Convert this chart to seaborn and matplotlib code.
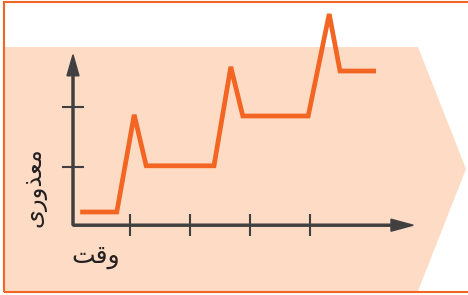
import numpy as np
import seaborn as sns
import matplotlib.pyplot as plt
from matplotlib.patches import Polygon, Rectangle

# data (units: one tick step)
x_vals = [0.17, 0.78, 1.07, 1.27, 2.40, 2.68, 2.88, 3.97, 4.32, 4.50, 5.10]
y_vals = [0.25, 0.25, 1.87, 1.02, 1.02, 2.67, 1.85, 1.85, 3.55, 2.60, 2.60]
x_ticks = [1, 2, 3, 4]
y_ticks = [1, 2]
x_label = "\uFE96\uFED7\uFEED"                       # وقت
y_label = "\uFBFC\uFEAD\uFEED\uFEAC\uFECC\uFEE3"     # معذوری

orange = "#F26522"
peach = "#FDDBC4"
grey = "#404040"

sns.set_style("white")
plt.rcParams['font.family'] = ['DejaVu Sans']

W, H = 468, 295
fig = plt.figure(figsize=(W / 100, H / 100), dpi=100)
ax = fig.add_axes([0, 0, 1, 1])
ax.set_facecolor("none")
ax.set_zorder(5)

# background arrow shape and frame
def fp(px, py):
    return (px / W, 1 - py / H)

shape = [fp(5, 47), fp(418, 47), fp(466, 169), fp(418, 291), fp(5, 291)]
fig.patches.append(Polygon(shape, closed=True, facecolor=peach, edgecolor="none",
                           transform=fig.transFigure, zorder=0))
fig.patches.append(Rectangle(fp(4, 292), 470 / W, 290 / H, fill=False,
                             edgecolor=orange, lw=1.5, transform=fig.transFigure, zorder=1))

x0, y0 = 0.05, 0.03
ax.set_xlim(-70 / 60, (W - 70) / 60)
ax.set_ylim((227 - H) / 60, 227 / 60)

# axes arrows
ax.arrow(x0, y0, 5.72 - x0, 0, width=0.034, head_width=0.2, head_length=0.37,
         length_includes_head=True, color=grey, zorder=2)
ax.arrow(x0, y0, 0, 2.87 - y0, width=0.034, head_width=0.2, head_length=0.35,
         length_includes_head=True, color=grey, zorder=2)

for s in ax.spines.values():
    s.set_visible(False)
ax.spines['left'].set_position(('data', x0))
ax.spines['bottom'].set_position(('data', y0))
ax.set_xticks(x_ticks)
ax.set_yticks(y_ticks)
ax.tick_params(axis='both', direction='inout', length=15.5, width=1.5, color=grey,
               labelbottom=False, labelleft=False, left=True, bottom=True)

sns.lineplot(x=x_vals, y=y_vals, sort=False, estimator=None, color=orange,
             lw=3.4, ax=ax, zorder=3)
ax.lines[-1].set_solid_joinstyle('miter')
ax.lines[-1].set_solid_capstyle('butt')

ax.text(0.42, -0.50, x_label, fontsize=18, color="#231F20", ha='center', va='center')
ax.text(-0.60, 0.66, y_label, fontsize=17.5, color="#231F20", ha='center', va='center',
        rotation=90)

fig.savefig("out.png", dpi=100)
